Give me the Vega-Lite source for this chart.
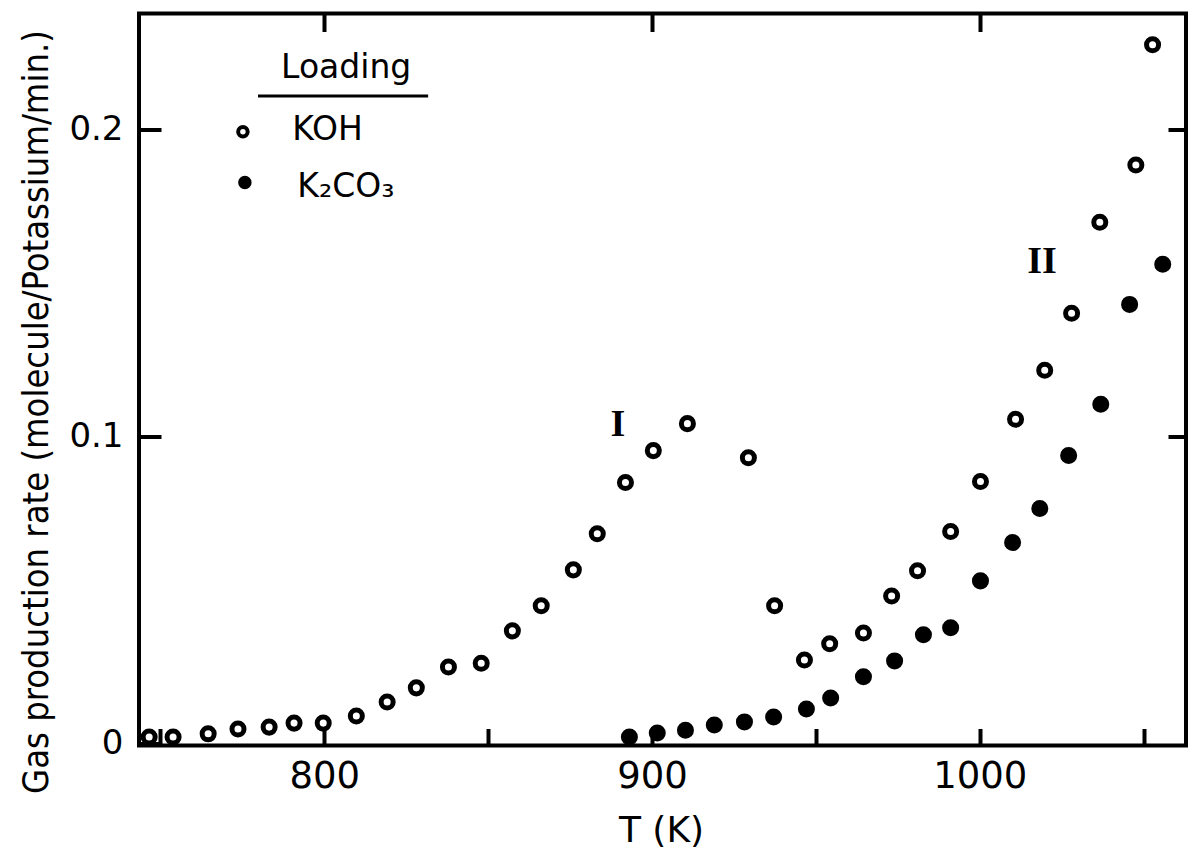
{
  "$schema": "https://vega.github.io/schema/vega-lite/v6.json",
  "width": 1047,
  "height": 732,
  "autosize": {"type": "none"},
  "padding": {"left": 139, "top": 13.5, "right": 7, "bottom": 112.5},
  "background": "white",
  "config": {
    "view": {"stroke": "black", "strokeWidth": 4},
    "font": "DejaVu Sans",
    "axis": {"grid": false, "domain": false, "tickColor": "black", "tickWidth": 4, "labelColor": "black", "titleColor": "black", "labelFont": "DejaVu Sans", "titleFont": "DejaVu Sans Condensed", "titleFontWeight": "normal"}
  },
  "datasets": {
    "points": [
      {"T": 746.6, "rate": 0.002, "loading": "KOH"},
      {"T": 753.9, "rate": 0.002, "loading": "KOH"},
      {"T": 764.6, "rate": 0.003, "loading": "KOH"},
      {"T": 773.7, "rate": 0.0046, "loading": "KOH"},
      {"T": 783.2, "rate": 0.0052, "loading": "KOH"},
      {"T": 790.8, "rate": 0.0065, "loading": "KOH"},
      {"T": 799.7, "rate": 0.0065, "loading": "KOH"},
      {"T": 809.8, "rate": 0.0088, "loading": "KOH"},
      {"T": 819.2, "rate": 0.0134, "loading": "KOH"},
      {"T": 828.1, "rate": 0.018, "loading": "KOH"},
      {"T": 837.9, "rate": 0.0248, "loading": "KOH"},
      {"T": 847.9, "rate": 0.026, "loading": "KOH"},
      {"T": 857.4, "rate": 0.0366, "loading": "KOH"},
      {"T": 866.2, "rate": 0.0448, "loading": "KOH"},
      {"T": 876.0, "rate": 0.0565, "loading": "KOH"},
      {"T": 883.3, "rate": 0.0683, "loading": "KOH"},
      {"T": 891.9, "rate": 0.085, "loading": "KOH"},
      {"T": 900.4, "rate": 0.0954, "loading": "KOH"},
      {"T": 910.8, "rate": 0.1042, "loading": "KOH"},
      {"T": 929.4, "rate": 0.0931, "loading": "KOH"},
      {"T": 937.4, "rate": 0.0448, "loading": "KOH"},
      {"T": 946.5, "rate": 0.0271, "loading": "KOH"},
      {"T": 954.2, "rate": 0.0324, "loading": "KOH"},
      {"T": 964.5, "rate": 0.0359, "loading": "KOH"},
      {"T": 973.1, "rate": 0.048, "loading": "KOH"},
      {"T": 981.0, "rate": 0.0562, "loading": "KOH"},
      {"T": 991.1, "rate": 0.069, "loading": "KOH"},
      {"T": 1000.2, "rate": 0.0853, "loading": "KOH"},
      {"T": 1010.9, "rate": 0.1056, "loading": "KOH"},
      {"T": 1019.8, "rate": 0.1216, "loading": "KOH"},
      {"T": 1028.0, "rate": 0.1402, "loading": "KOH"},
      {"T": 1036.6, "rate": 0.1699, "loading": "KOH"},
      {"T": 1047.6, "rate": 0.1886, "loading": "KOH"},
      {"T": 1052.7, "rate": 0.2278, "loading": "KOH"},
      {"T": 893.1, "rate": 0.002, "loading": "K2CO3"},
      {"T": 901.6, "rate": 0.0033, "loading": "K2CO3"},
      {"T": 910.2, "rate": 0.0042, "loading": "K2CO3"},
      {"T": 919.0, "rate": 0.0059, "loading": "K2CO3"},
      {"T": 928.2, "rate": 0.0069, "loading": "K2CO3"},
      {"T": 937.1, "rate": 0.0085, "loading": "K2CO3"},
      {"T": 947.1, "rate": 0.0111, "loading": "K2CO3"},
      {"T": 954.5, "rate": 0.0147, "loading": "K2CO3"},
      {"T": 964.5, "rate": 0.0216, "loading": "K2CO3"},
      {"T": 974.0, "rate": 0.0268, "loading": "K2CO3"},
      {"T": 982.8, "rate": 0.0353, "loading": "K2CO3"},
      {"T": 991.1, "rate": 0.0376, "loading": "K2CO3"},
      {"T": 1000.2, "rate": 0.0529, "loading": "K2CO3"},
      {"T": 1010.0, "rate": 0.0654, "loading": "K2CO3"},
      {"T": 1018.3, "rate": 0.0765, "loading": "K2CO3"},
      {"T": 1027.1, "rate": 0.0938, "loading": "K2CO3"},
      {"T": 1036.9, "rate": 0.1105, "loading": "K2CO3"},
      {"T": 1045.7, "rate": 0.1431, "loading": "K2CO3"},
      {"T": 1055.8, "rate": 0.1562, "loading": "K2CO3"}
    ],
    "legendSymbols": [
      {"T": 775.2, "rate": 0.1994, "loading": "KOH"},
      {"T": 775.8, "rate": 0.1829, "loading": "K2CO3"}
    ],
    "legendTexts": [
      {"T": 806.7, "rate": 0.217, "label": "Loading"},
      {"T": 801.0, "rate": 0.1968, "label": "KOH"},
      {"T": 806.6, "rate": 0.1782, "label": "K₂CO₃"}
    ],
    "underline": [
      {"x1": 779.8, "x2": 831.7, "y": 0.2111}
    ],
    "romans": [
      {"T": 889.6, "rate": 0.1038, "label": "I"},
      {"T": 1019.0, "rate": 0.157, "label": "II"}
    ]
  },
  "layer": [
    {
      "data": {"name": "points"},
      "mark": {"type": "point", "shape": "circle", "filled": true, "size": 145, "stroke": "black", "strokeWidth": 5, "opacity": 1},
      "encoding": {
        "x": {"field": "T", "type": "quantitative",
              "scale": {"domain": [743.5, 1062.9], "nice": false, "zero": false},
              "axis": {"orient": "bottom", "values": [750, 800, 850, 900, 950, 1000, 1050], "labelExpr": "datum.value % 100 === 0 ? datum.label : ''", "format": "d", "tickSize": -17, "labelPadding": 59, "labelFontSize": 37, "labelBaseline": "alphabetic", "labelDx": 5, "title": "T (K)", "titleFontSize": 36, "titleX": 522, "titleY": 85, "titleAlign": "center", "titleBaseline": "middle", "titleFont": "DejaVu Sans"}},
        "y": {"field": "rate", "type": "quantitative",
              "scale": {"domain": [-0.0008, 0.238], "nice": false, "zero": false},
              "axis": {"orient": "left", "values": [0, 0.1, 0.2], "format": ".1~f", "tickSize": -22, "labelPadding": 38, "labelFontSize": 34, "title": "Gas production rate (molecule/Potassium/min.)", "titleFontSize": 36, "titleX": -103, "titleY": 398, "titleAngle": -90, "titleAlign": "center", "titleBaseline": "middle"}},
        "fill": {"field": "loading", "type": "nominal", "scale": {"domain": ["KOH", "K2CO3"], "range": ["white", "black"]}, "legend": null}
      }
    },
    {
      "data": {"name": "legendSymbols"},
      "mark": {"type": "point", "shape": "circle", "filled": true, "size": 90, "stroke": "black", "strokeWidth": 4, "opacity": 1},
      "encoding": {
        "x": {"field": "T", "type": "quantitative", "scale": {"domain": [743.5, 1062.9], "nice": false, "zero": false}, "axis": null},
        "y": {"field": "rate", "type": "quantitative", "scale": {"domain": [-0.0008, 0.238], "nice": false, "zero": false}, "axis": null},
        "fill": {"field": "loading", "type": "nominal", "scale": {"domain": ["KOH", "K2CO3"], "range": ["white", "black"]}, "legend": null}
      }
    },
    {
      "data": {"name": "underline"},
      "mark": {"type": "rule", "stroke": "black", "strokeWidth": 3},
      "encoding": {
        "x": {"field": "x1", "type": "quantitative",
              "scale": {"domain": [743.5, 1062.9], "nice": false, "zero": false},
              "axis": {"orient": "top", "values": [800, 900, 1000], "labels": false, "tickSize": -18, "title": null}},
        "x2": {"field": "x2"},
        "y": {"field": "y", "type": "quantitative",
              "scale": {"domain": [-0.0008, 0.238], "nice": false, "zero": false},
              "axis": {"orient": "right", "values": [0.1, 0.2], "labels": false, "tickSize": -18, "title": null}}
      }
    },
    {
      "data": {"name": "legendTexts"},
      "mark": {"type": "text", "font": "DejaVu Sans", "fontSize": 33, "baseline": "alphabetic", "align": "center", "color": "black"},
      "encoding": {
        "x": {"field": "T", "type": "quantitative", "scale": {"domain": [743.5, 1062.9], "nice": false, "zero": false}, "axis": null},
        "y": {"field": "rate", "type": "quantitative", "scale": {"domain": [-0.0008, 0.238], "nice": false, "zero": false}, "axis": null},
        "text": {"field": "label"}
      }
    },
    {
      "data": {"name": "romans"},
      "mark": {"type": "text", "font": "Liberation Serif", "fontWeight": "bold", "fontSize": 38, "baseline": "middle", "align": "center", "color": "black"},
      "encoding": {
        "x": {"field": "T", "type": "quantitative", "scale": {"domain": [743.5, 1062.9], "nice": false, "zero": false}, "axis": null},
        "y": {"field": "rate", "type": "quantitative", "scale": {"domain": [-0.0008, 0.238], "nice": false, "zero": false}, "axis": null},
        "text": {"field": "label"}
      }
    }
  ],
  "resolve": {"axis": {"x": "independent", "y": "independent"}}
}
